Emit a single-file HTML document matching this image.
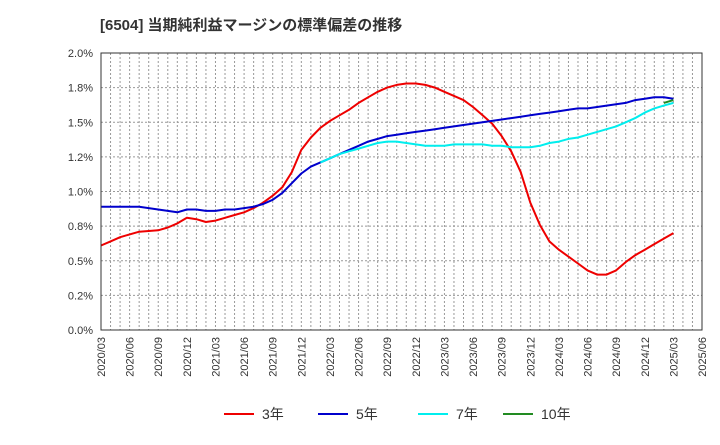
<!DOCTYPE html>
<html><head><meta charset="utf-8"><style>
body{margin:0;background:#fff;}
svg text{font-family:"Liberation Sans","Noto Sans CJK JP",sans-serif;}
</style></head><body>
<svg id="c" width="720" height="440" xmlns="http://www.w3.org/2000/svg">
<text x="100" y="30" font-size="15" font-weight="bold" fill="#333">[6504]  当期純利益マージンの標準偏差の推移</text>
<g id="grid"></g>
<g id="ylab"></g>
<g id="xlab"></g>
<g id="lines"></g>
<rect x="101" y="53" width="601" height="277" fill="none" stroke="#333" stroke-width="1"/>
<g font-size="14" fill="#333">
<g><line x1="224" y1="414" x2="254" y2="414" stroke="#e00" stroke-width="2"/><text x="262" y="419">3年</text></g>
<g><line x1="318" y1="414" x2="348" y2="414" stroke="#00c" stroke-width="2"/><text x="356" y="419">5年</text></g>
<g><line x1="418" y1="414" x2="448" y2="414" stroke="#0ee" stroke-width="2"/><text x="456" y="419">7年</text></g>
<g><line x1="503" y1="414" x2="533" y2="414" stroke="#228b22" stroke-width="2"/><text x="541" y="419">10年</text></g>
</g>
</svg>
<script>
const xTickLabels=["2020/03","2020/06","2020/09","2020/12","2021/03","2021/06","2021/09","2021/12","2022/03","2022/06","2022/09","2022/12","2023/03","2023/06","2023/09","2023/12","2024/03","2024/06","2024/09","2024/12","2025/03","2025/06"];
const yTicks=[0,0.25,0.5,0.75,1.0,1.25,1.5,1.75,2.0];
const yTickLabels=["0.0%","0.2%","0.5%","0.8%","1.0%","1.2%","1.5%","1.8%","2.0%"];
const s3=[.61,.64,.67,.69,.71,.715,.72,.74,.77,.81,.80,.78,.79,.81,.83,.85,.88,.92,.97,1.03,1.14,1.30,1.39,1.46,1.51,1.55,1.59,1.64,1.68,1.72,1.75,1.77,1.78,1.78,1.77,1.75,1.72,1.69,1.66,1.61,1.55,1.49,1.40,1.29,1.14,.92,.76,.64,.58,.53,.48,.43,.40,.40,.43,.49,.54,.58,.62,.66,.70];
const s5=[.89,.89,.89,.89,.89,.88,.87,.86,.85,.87,.87,.86,.86,.87,.87,.88,.89,.91,.94,.99,1.06,1.13,1.18,1.21,1.24,1.27,1.30,1.33,1.36,1.38,1.40,1.41,1.42,1.43,1.44,1.45,1.46,1.47,1.48,1.49,1.50,1.51,1.52,1.53,1.54,1.55,1.56,1.57,1.58,1.59,1.60,1.60,1.61,1.62,1.63,1.64,1.66,1.67,1.68,1.68,1.67];
const s7Start=23;
const s7=[1.21,1.24,1.27,1.29,1.31,1.33,1.35,1.36,1.36,1.35,1.34,1.33,1.33,1.33,1.34,1.34,1.34,1.34,1.33,1.33,1.32,1.32,1.32,1.33,1.35,1.36,1.38,1.39,1.41,1.43,1.45,1.47,1.50,1.53,1.57,1.60,1.62,1.64];
const s10Start=59;
const s10=[1.64,1.66];
const L=101,R=702,T=53,B=330,NM=63;
const X=i=>L+i*(R-L)/NM;
const Y=v=>B-v/2*(B-T);
const NS="http://www.w3.org/2000/svg";
function mk(t,a,p){const e=document.createElementNS(NS,t);for(const k in a)e.setAttribute(k,a[k]);p.appendChild(e);return e;}
const g=document.getElementById('grid');
for(let i=1;i<NM;i++){const l=mk('line',{x1:X(i),x2:X(i),y1:T,y2:B,stroke:'#999','stroke-dasharray':'2,2','stroke-width':1},g);

}
yTicks.forEach((v,k)=>{if(k>0&&k<yTicks.length-1){const l=mk('line',{x1:L,x2:R,y1:Y(v),y2:Y(v),stroke:'#999','stroke-dasharray':'2,2','stroke-width':1},g);

}
const t=mk('text',{x:93,y:Y(v)+4,'text-anchor':'end','font-size':11,fill:'#333'},document.getElementById('ylab'));t.textContent=yTickLabels[k];

});
xTickLabels.forEach((s,k)=>{const x=X(k*3);const t=mk('text',{x:0,y:0,transform:`translate(${x+4},337) rotate(-90)`,'text-anchor':'end','font-size':11,fill:'#333'},document.getElementById('xlab'));t.textContent=s;

});
function line(arr,start,col,name){const p=arr.map((v,i)=>X(start+i).toFixed(1)+','+Y(v).toFixed(1)).join(' ');
const e=mk('polyline',{points:p,fill:'none',stroke:col,'stroke-width':2,'stroke-linejoin':'round'},document.getElementById('lines'));

}
line(s3,0,'#e00','series-3y');
line(s5,0,'#00c','series-5y');
line(s7,s7Start,'#0ee','series-7y');
line(s10,s10Start,'#228b22','series-10y');
</script>
</body></html>
